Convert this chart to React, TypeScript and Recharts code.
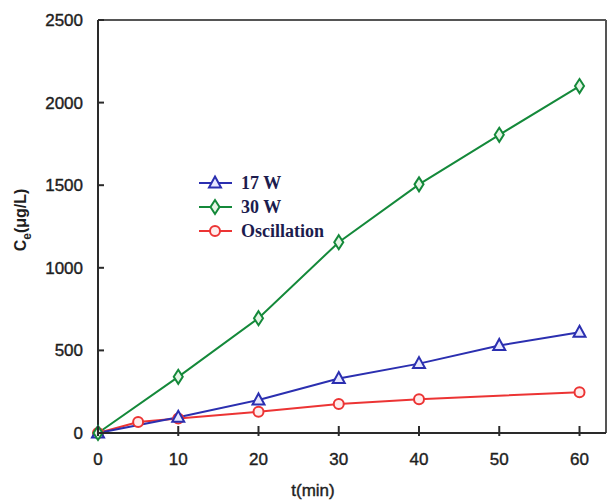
import { Line, LineChart, ReferenceLine, XAxis, YAxis } from "recharts";

const TIME_TICKS = [0, 10, 20, 30, 40, 50, 60];
const CE_TICKS = [0, 500, 1000, 1500, 2000, 2500];
const X_MAX = 63.3;
const Y_MAX = 2500;

const W17 = [
  { t: 0, ce: 0 },
  { t: 10, ce: 95 },
  { t: 20, ce: 200 },
  { t: 30, ce: 330 },
  { t: 40, ce: 420 },
  { t: 50, ce: 530 },
  { t: 60, ce: 610 },
];

const W30 = [
  { t: 0, ce: 0 },
  { t: 10, ce: 340 },
  { t: 20, ce: 695 },
  { t: 30, ce: 1155 },
  { t: 40, ce: 1505 },
  { t: 50, ce: 1805 },
  { t: 60, ce: 2100 },
];

const OSC = [
  { t: 0, ce: 0 },
  { t: 5, ce: 67 },
  { t: 10, ce: 88 },
  { t: 20, ce: 128 },
  { t: 30, ce: 175 },
  { t: 40, ce: 205 },
  { t: 60, ce: 247 },
];

const BLUE = "#2b2fb0";
const GREEN = "#14893a";
const RED = "#ec3434";
const AXIS = "#2a2a2a";
const SANS = "Liberation Sans, Arial, sans-serif";

const SERIES = [
  { name: "17 W", color: BLUE, shape: "triangle" },
  { name: "30 W", color: GREEN, shape: "diamond" },
  { name: "Oscillation", color: RED, shape: "circle" },
];

function Marker({ cx, cy, shape, color }: { cx: number; cy: number; shape: string; color: string }) {
  if (shape === "triangle") {
    return (
      <polygon
        points={`${cx},${cy - 6.5} ${cx + 6},${cy + 4.5} ${cx - 6},${cy + 4.5}`}
        fill="#e8e8ff"
        stroke={color}
        strokeWidth={2}
      />
    );
  }
  if (shape === "diamond") {
    return (
      <polygon
        points={`${cx},${cy - 7} ${cx + 4.5},${cy} ${cx},${cy + 7} ${cx - 4.5},${cy}`}
        fill="#e6f5e6"
        stroke={color}
        strokeWidth={2}
      />
    );
  }
  return <circle cx={cx} cy={cy} r={5} fill="#ffecec" stroke={color} strokeWidth={2} />;
}

const dot = (shape: string, color: string) => (props: any) =>
  <Marker key={props.index} cx={props.cx} cy={props.cy} shape={shape} color={color} />;

const YTick = (props: any) => {
  const { x, y, payload } = props;
  return (
    <g>
      <line x1={x} x2={x + 6} y1={y} y2={y} stroke={AXIS} strokeWidth={2} />
      <text x={x - 15} y={y} dy={6} textAnchor="end" fontSize={17} fill="#1e1e1e"
        fontFamily={SANS} stroke="#1e1e1e" strokeWidth={0.4}>
        {payload.value}
      </text>
    </g>
  );
};

const XTick = (props: any) => {
  const { x, y, payload } = props;
  return (
    <g>
      <line x1={x} x2={x} y1={y - 7} y2={y + 3} stroke={AXIS} strokeWidth={2} />
      <text x={x} y={y + 32} textAnchor="middle" fontSize={17} fill="#1e1e1e"
        fontFamily={SANS} stroke="#1e1e1e" strokeWidth={0.4}>
        {payload.value}
      </text>
    </g>
  );
};

const LegendBox = () => (
  <div style={{ position: "absolute", left: 196, top: 171, fontFamily: "Liberation Serif, Times New Roman, serif", fontWeight: "bold", fontSize: 18, color: "#1c1c4e" }}>
    {SERIES.map((s) => (
      <div key={s.name} style={{ display: "flex", alignItems: "center", height: 24 }}>
        <svg width={40} height={18} style={{ marginRight: 5 }}>
          <line x1={3} x2={36} y1={9} y2={9} stroke={s.color} strokeWidth={2} />
          <Marker cx={19} cy={9} shape={s.shape} color={s.color} />
        </svg>
        <span>{s.name}</span>
      </div>
    ))}
  </div>
);

export default function App() {
  return (
    <div style={{ position: "absolute", left: 0, top: 0, width: 607, height: 501, background: "#fff" }}>
      <LineChart width={607} height={501} margin={{ top: 20, right: 1, bottom: 0, left: 0 }}>
        <XAxis
          dataKey="t"
          type="number"
          domain={[0, X_MAX]}
          ticks={TIME_TICKS}
          allowDuplicatedCategory={false}
          height={68}
          axisLine={{ stroke: AXIS, strokeWidth: 2 }}
          tickLine={false}
          tickSize={0}
          tickMargin={0}
          tick={XTick}
          label={{
            content: () => (
              <text x={313} y={496} textAnchor="middle" fontSize={17} fill="#1e1e1e"
                fontFamily={SANS} stroke="#1e1e1e" strokeWidth={0.4}>
                t(min)
              </text>
            ),
          }}
        />
        <YAxis
          dataKey="ce"
          type="number"
          domain={[0, Y_MAX]}
          ticks={CE_TICKS}
          width={98}
          axisLine={{ stroke: AXIS, strokeWidth: 2 }}
          tickLine={false}
          tickSize={0}
          tickMargin={0}
          tick={YTick}
          label={{
            content: () => (
              <text transform="translate(26 220) rotate(-90)" textAnchor="middle" fontSize={16} fill="#1e1e1e"
                fontFamily={SANS} fontWeight="bold">
                C<tspan dy={5} fontSize={12}>e</tspan><tspan dy={-5}>(μg/L)</tspan>
              </text>
            ),
          }}
        />
        <ReferenceLine y={Y_MAX} stroke="#555" strokeWidth={2} ifOverflow="extendDomain" />
        <ReferenceLine x={X_MAX} stroke="#555" strokeWidth={2} ifOverflow="extendDomain" />
        <Line data={OSC} dataKey="ce" name="Oscillation" stroke={RED} strokeWidth={2}
          dot={dot("circle", RED)} isAnimationActive={false} />
        <Line data={W17} dataKey="ce" name="17 W" stroke={BLUE} strokeWidth={2}
          dot={dot("triangle", BLUE)} isAnimationActive={false} />
        <Line data={W30} dataKey="ce" name="30 W" stroke={GREEN} strokeWidth={2}
          dot={dot("diamond", GREEN)} isAnimationActive={false} />
      </LineChart>
      <LegendBox />
    </div>
  );
}
